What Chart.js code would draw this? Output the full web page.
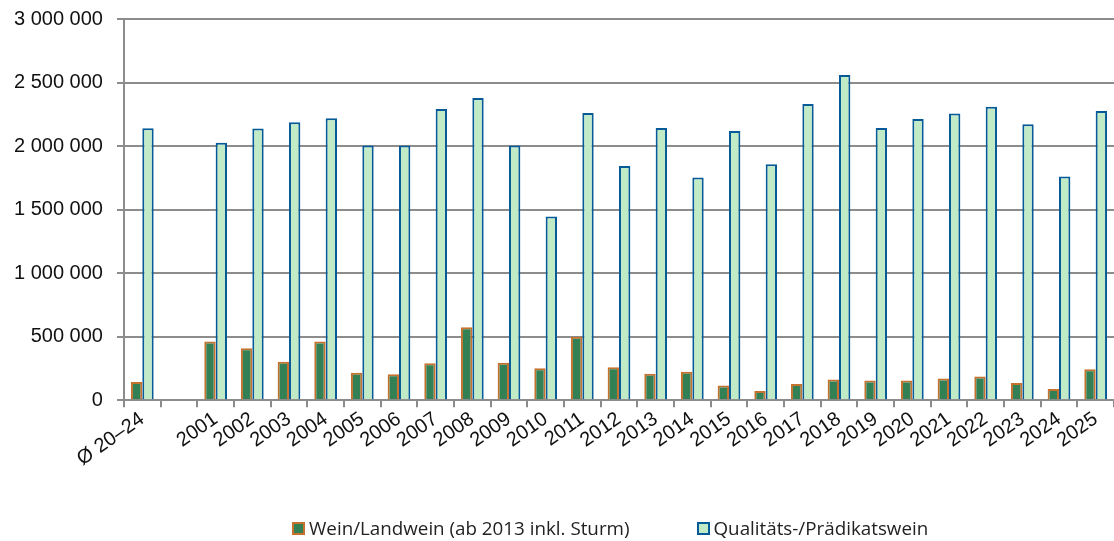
<!DOCTYPE html>
<html>
<head>
<meta charset="utf-8">
<script src="https://cdn.jsdelivr.net/npm/chart.js@4.4.1/dist/chart.umd.min.js"></script>
<style>
  html, body { margin: 0; padding: 0; background: #fff; overflow: hidden; }
  #wrap { position: relative; width: 1114px; height: 541px; overflow: hidden; }
  #plot { position: absolute; left: 0; top: -7px; width: 1114px; height: 548px; }
  #legend { position: absolute; left: 292px; top: 515px; height: 26px; display: flex; align-items: center;
    font-family: "Open Sans", sans-serif; font-size: 18.8px; line-height: 26px; color: #222; white-space: nowrap; }
  #legend span.box { display: inline-block; width: 9px; height: 9px; border: 2px solid; margin-right: 4px; }
  #legend .item { display: flex; align-items: center; }
  #legend .item + .item { margin-left: 67px; }
</style>
</head>
<body>
<div id="wrap">
  <div id="plot"><canvas id="chart"></canvas></div>
  <div id="legend"></div>
</div>
<script>
// categories (second one is an empty spacer column)
const labels = ["Ø 20–24", "", "2001", "2002", "2003", "2004", "2005", "2006", "2007", "2008",
  "2009", "2010", "2011", "2012", "2013", "2014", "2015", "2016", "2017", "2018",
  "2019", "2020", "2021", "2022", "2023", "2024", "2025"];

// Wein/Landwein
const weinLandwein = [145000, null, 463000, 410000, 304000, 463000, 217000, 206000, 291000, 574000,
  296000, 252000, 500000, 260000, 209000, 225000, 117000, 74000, 128000, 164000,
  156000, 156000, 172000, 188000, 137000, 90000, 244000];

// Qualitäts-/Prädikatswein
const qualitaetswein = [2140000, null, 2026000, 2139000, 2187000, 2220000, 2005000, 2005000, 2291000, 2378000,
  2005000, 1447000, 2260000, 1843000, 2142000, 1753000, 2118000, 1858000, 2331000, 2559000,
  2142000, 2213000, 2257000, 2310000, 2171000, 1760000, 2276000];

const yTicks = { min: 0, max: 3000000, step: 500000 };

const fmt = v => String(v).replace(/\B(?=(\d{3})+(?!\d))/g, " ");

const ctx = document.getElementById('chart').getContext('2d');
const chart = new Chart(ctx, {
  type: 'bar',
  data: {
    labels: labels,
    datasets: [{
      label: 'Wein/Landwein (ab 2013 inkl. Sturm)',
      data: weinLandwein,
      backgroundColor: '#338055',
      borderColor: '#c4722e',
      borderWidth: 2,
      categoryPercentage: 0.62,
      barPercentage: 1.0
    }, {
      label: 'Qualitäts-/Prädikatswein',
      data: qualitaetswein,
      backgroundColor: '#c1eac6',
      borderColor: '#075a98',
      borderWidth: 2,
      categoryPercentage: 0.62,
      barPercentage: 1.0
    }]
  },
  options: {
    responsive: true,
    maintainAspectRatio: false,
    animation: false,
    layout: { padding: { top: 0, right: -3, bottom: 70, left: 0 } },
    plugins: {
      tooltip: { enabled: false },
      legend: { display: false }
    },
    scales: {
      x: {
        grid: {
          display: true,
          drawOnChartArea: false,
          drawTicks: true,
          tickLength: 7,
          color: '#8c8c8c',
          lineWidth: 2
        },
        border: { color: '#8c8c8c', width: 2 },
        ticks: {
          autoSkip: false,
          maxRotation: 35,
          minRotation: 35,
          color: '#111',
          padding: 0,
          font: { family: 'Liberation Sans', size: 20 }
        }
      },
      y: {
        min: yTicks.min,
        max: yTicks.max,
        grid: {
          color: '#8c8c8c',
          lineWidth: 2,
          tickLength: 7
        },
        border: { color: '#8c8c8c', width: 2 },
        ticks: {
          stepSize: yTicks.step,
          color: '#111',
          padding: 14,
          font: { family: 'Liberation Sans', size: 20 },
          callback: v => fmt(v)
        }
      }
    }
  }
});

// legend below the chart, built from the datasets
document.getElementById('legend').innerHTML = chart.data.datasets.map(ds =>
  `<div class="item"><span class="box" style="background:${ds.backgroundColor};border-color:${ds.borderColor}"></span>${ds.label}</div>`
).join('');
</script>
</body>
</html>
